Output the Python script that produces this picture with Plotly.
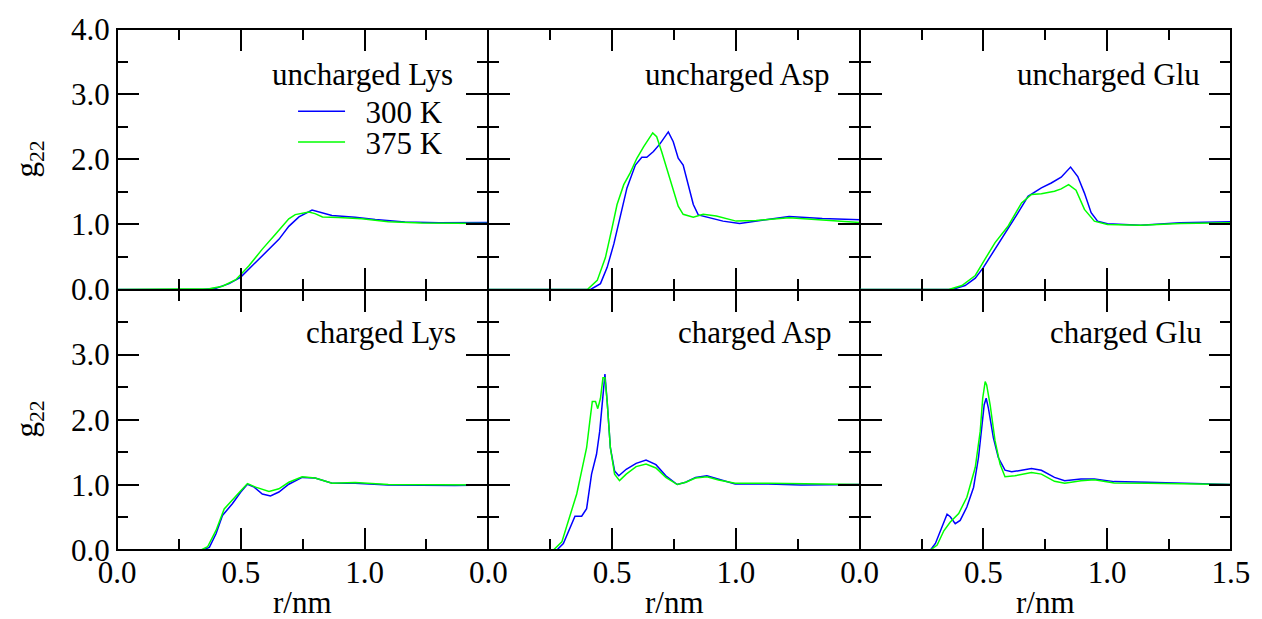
import plotly.graph_objects as go
from plotly.subplots import make_subplots

# ---------------- data (r in nm, g22) ----------------
# uncharged Lys
ulys_300_r = [0.0, 0.346, 0.40, 0.453, 0.50, 0.547, 0.60, 0.654, 0.694, 0.735, 0.788, 0.83, 0.868, 0.962, 1.043, 1.163, 1.30, 1.5]
ulys_300_g = [0.0, 0.0, 0.02, 0.09, 0.19, 0.365, 0.57, 0.77, 0.97, 1.115, 1.22, 1.18, 1.135, 1.11, 1.075, 1.035, 1.025, 1.03]
ulys_375_r = [0.0, 0.33, 0.373, 0.426, 0.48, 0.533, 0.587, 0.64, 0.694, 0.72, 0.748, 0.775, 0.80, 0.83, 0.895, 0.989, 1.096, 1.23, 1.5]
ulys_375_g = [0.0, 0.0, 0.01, 0.05, 0.15, 0.365, 0.62, 0.85, 1.085, 1.15, 1.165, 1.19, 1.165, 1.115, 1.105, 1.085, 1.04, 1.02, 1.015]

# uncharged Asp
uasp_300_r = [0.0, 0.413, 0.453, 0.48, 0.507, 0.533, 0.56, 0.594, 0.62, 0.64, 0.667, 0.694, 0.727, 0.747, 0.767, 0.787, 0.807, 0.828, 0.848, 0.894, 0.948, 1.015, 1.082, 1.215, 1.349, 1.5]
uasp_300_g = [0.0, 0.0, 0.09, 0.34, 0.70, 1.10, 1.56, 1.91, 2.03, 2.03, 2.12, 2.24, 2.42, 2.27, 2.015, 1.91, 1.61, 1.305, 1.145, 1.10, 1.05, 1.015, 1.05, 1.12, 1.09, 1.07]
uasp_375_r = [0.0, 0.40, 0.44, 0.473, 0.50, 0.52, 0.547, 0.573, 0.60, 0.627, 0.664, 0.68, 0.70, 0.72, 0.747, 0.767, 0.787, 0.828, 0.868, 0.921, 1.001, 1.082, 1.215, 1.349, 1.5]
uasp_375_g = [0.0, 0.0, 0.14, 0.49, 0.95, 1.305, 1.61, 1.79, 2.015, 2.19, 2.405, 2.345, 2.12, 1.865, 1.51, 1.28, 1.155, 1.11, 1.155, 1.13, 1.05, 1.06, 1.10, 1.07, 1.03]

# uncharged Glu
uglu_300_r = [0.0, 0.373, 0.426, 0.467, 0.50, 0.547, 0.60, 0.64, 0.68, 0.734, 0.774, 0.814, 0.852, 0.881, 0.908, 0.935, 0.961, 1.001, 1.135, 1.295, 1.5]
uglu_300_g = [0.0, 0.0, 0.06, 0.175, 0.34, 0.62, 0.925, 1.18, 1.43, 1.56, 1.635, 1.725, 1.88, 1.735, 1.48, 1.18, 1.05, 1.01, 0.985, 1.025, 1.04]
uglu_375_r = [0.0, 0.36, 0.413, 0.467, 0.507, 0.547, 0.60, 0.654, 0.694, 0.734, 0.787, 0.814, 0.844, 0.874, 0.908, 0.948, 1.001, 1.135, 1.295, 1.5]
uglu_375_g = [0.0, 0.0, 0.06, 0.215, 0.47, 0.72, 0.975, 1.33, 1.46, 1.47, 1.51, 1.545, 1.61, 1.525, 1.23, 1.05, 1.0, 0.985, 1.015, 1.025]

# charged Lys
clys_300_r = [0.0, 0.346, 0.373, 0.40, 0.426, 0.466, 0.50, 0.527, 0.554, 0.587, 0.62, 0.654, 0.694, 0.748, 0.80, 0.869, 0.962, 1.096, 1.365, 1.5]
clys_300_g = [0.0, 0.0, 0.04, 0.25, 0.53, 0.71, 0.89, 1.01, 0.965, 0.86, 0.83, 0.89, 1.01, 1.115, 1.105, 1.025, 1.025, 1.0, 0.99, 1.0]
clys_375_r = [0.0, 0.34, 0.366, 0.40, 0.433, 0.466, 0.50, 0.527, 0.56, 0.614, 0.654, 0.694, 0.748, 0.80, 0.869, 0.962, 1.096, 1.5]
clys_375_g = [0.0, 0.0, 0.05, 0.30, 0.63, 0.76, 0.91, 1.02, 0.965, 0.90, 0.94, 1.04, 1.125, 1.105, 1.025, 1.035, 1.005, 1.0]

# charged Asp
casp_300_r = [0.0, 0.277, 0.303, 0.33, 0.35, 0.377, 0.397, 0.417, 0.437, 0.45, 0.463, 0.471, 0.48, 0.493, 0.51, 0.527, 0.557, 0.597, 0.637, 0.677, 0.717, 0.763, 0.797, 0.837, 0.883, 0.93, 0.997, 1.13, 1.263, 1.5]
casp_300_g = [0.0, 0.0, 0.10, 0.355, 0.52, 0.52, 0.635, 1.165, 1.47, 1.825, 2.38, 2.70, 2.28, 1.57, 1.215, 1.14, 1.24, 1.33, 1.38, 1.31, 1.14, 1.005, 1.04, 1.115, 1.14, 1.09, 1.015, 1.015, 1.0, 1.005]
casp_375_r = [0.0, 0.263, 0.297, 0.33, 0.357, 0.377, 0.397, 0.41, 0.42, 0.433, 0.442, 0.453, 0.463, 0.471, 0.48, 0.493, 0.51, 0.53, 0.557, 0.597, 0.637, 0.677, 0.717, 0.763, 0.797, 0.837, 0.883, 0.93, 0.997, 1.13, 1.5]
casp_375_g = [0.0, 0.0, 0.125, 0.51, 0.86, 1.215, 1.57, 1.98, 2.28, 2.28, 2.17, 2.33, 2.645, 2.645, 2.28, 1.57, 1.165, 1.065, 1.165, 1.28, 1.32, 1.26, 1.115, 1.005, 1.04, 1.105, 1.125, 1.075, 1.025, 1.025, 1.005]

# charged Glu
cglu_300_r = [0.0, 0.286, 0.306, 0.333, 0.353, 0.366, 0.386, 0.406, 0.433, 0.46, 0.48, 0.493, 0.503, 0.511, 0.52, 0.54, 0.56, 0.587, 0.614, 0.654, 0.694, 0.734, 0.787, 0.828, 0.894, 0.948, 1.028, 1.162, 1.295, 1.5]
cglu_300_g = [0.0, 0.0, 0.10, 0.355, 0.55, 0.51, 0.405, 0.455, 0.66, 0.96, 1.42, 1.875, 2.23, 2.33, 2.18, 1.725, 1.42, 1.225, 1.20, 1.225, 1.25, 1.225, 1.115, 1.065, 1.09, 1.09, 1.05, 1.04, 1.025, 1.005]
cglu_375_r = [0.0, 0.286, 0.313, 0.34, 0.366, 0.40, 0.433, 0.467, 0.487, 0.497, 0.507, 0.513, 0.527, 0.547, 0.567, 0.587, 0.627, 0.694, 0.734, 0.787, 0.828, 0.894, 0.948, 1.028, 1.162, 1.5]
cglu_375_g = [0.0, 0.0, 0.075, 0.295, 0.43, 0.56, 0.81, 1.27, 1.825, 2.33, 2.585, 2.535, 2.23, 1.675, 1.32, 1.125, 1.14, 1.19, 1.165, 1.055, 1.025, 1.065, 1.08, 1.03, 1.025, 1.005]

panel_titles = ["uncharged Lys", "uncharged Asp", "uncharged Glu",
                "charged Lys", "charged Asp", "charged Glu"]
series_names = ["300 K", "375 K"]
x_tickvals = [0.0, 0.5, 1.0, 1.5]
x_ticktext_mid = ["0.0", "0.5", "1.0", ""]
x_ticktext_last = ["0.0", "0.5", "1.0", "1.5"]
y_tickvals = [0, 1, 2, 3, 4]
y_ticktext_top = ["0.0", "1.0", "2.0", "3.0", "4.0"]
y_ticktext_bot = ["0.0", "1.0", "2.0", "3.0", ""]
x_title = "r/nm"
y_title = "g<sub>22</sub>"

panels = [
    (ulys_300_r, ulys_300_g, ulys_375_r, ulys_375_g),
    (uasp_300_r, uasp_300_g, uasp_375_r, uasp_375_g),
    (uglu_300_r, uglu_300_g, uglu_375_r, uglu_375_g),
    (clys_300_r, clys_300_g, clys_375_r, clys_375_g),
    (casp_300_r, casp_300_g, casp_375_r, casp_375_g),
    (cglu_300_r, cglu_300_g, cglu_375_r, cglu_375_g),
]

BLUE = "#0000ff"
GREEN = "#00ff00"
FONT = "Liberation Serif"
FS = 31
PAD = "\u00a0\u00a0"  # small gap between legend line and legend text

fig = make_subplots(rows=2, cols=3, horizontal_spacing=0, vertical_spacing=0)

for i, (r1, g1, r2, g2) in enumerate(panels):
    row = i // 3 + 1
    col = i % 3 + 1
    first = (i == 0)
    fig.add_trace(go.Scatter(x=r1, y=g1, mode="lines", name=PAD + series_names[0],
                             line=dict(color=BLUE, width=1.5), showlegend=first,
                             legend="legend"),
                  row=row, col=col)
    fig.add_trace(go.Scatter(x=r2, y=g2, mode="lines", name=PAD + series_names[1],
                             line=dict(color=GREEN, width=1.5), showlegend=first,
                             legend="legend2"),
                  row=row, col=col)

axis_common = dict(
    showline=True, linecolor="black", linewidth=1, mirror="allticks",
    ticks="inside", ticklen=22, tickwidth=2, tickcolor="black",
    showgrid=False, zeroline=False,
    tickfont=dict(family=FONT, size=FS, color="black"),
)

for i in range(6):
    row = i // 3 + 1
    col = i % 3 + 1
    xt = x_ticktext_last if col == 3 else x_ticktext_mid
    fig.update_xaxes(range=[0, 1.5], tickvals=x_tickvals, ticktext=xt,
                     showticklabels=(row == 2), ticklabelstandoff=-5,
                     minor=dict(dtick=0.25, ticklen=11, tickwidth=2, tickcolor="black", ticks="inside"),
                     **axis_common, row=row, col=col)
    yt = y_ticktext_top if row == 1 else y_ticktext_bot
    fig.update_yaxes(range=[0, 4], tickvals=y_tickvals, ticktext=yt,
                     showticklabels=(col == 1),
                     minor=dict(dtick=0.5, ticklen=11, tickwidth=2, tickcolor="black", ticks="inside"),
                     **axis_common, row=row, col=col)

ML, MR, MT, MB = 117, 25, 25, 69
W, H = 1262, 619
PW = W - ML - MR
PH = H - MT - MB

def px2x(px):
    return (px - ML) / PW

def py2y(py):
    return (H - MB - py) / PH

annots = []
label_pos = [(457, 71), (836, 71), (1208, 71), (460, 331), (838, 331), (1210, 331)]
for t, (px, py) in zip(panel_titles, label_pos):
    annots.append(dict(text=t, x=px2x(px), y=py2y(py), xref="paper", yref="paper",
                       xanchor="right", yanchor="middle", showarrow=False,
                       font=dict(family=FONT, size=FS, color="black")))
for cx in [303.5, 677, 1050.5]:
    annots.append(dict(text=x_title, x=px2x(cx), y=py2y(603), xref="paper", yref="paper",
                       xanchor="center", yanchor="middle", showarrow=False,
                       font=dict(family=FONT, size=FS, color="black")))
for cy in [156, 418]:
    annots.append(dict(text=y_title, x=px2x(29), y=py2y(cy), xref="paper", yref="paper",
                       xanchor="center", yanchor="middle", showarrow=False, textangle=-90,
                       font=dict(family=FONT, size=FS, color="black")))

leg_common = dict(xanchor="left", yanchor="top", bgcolor="rgba(0,0,0,0)", borderwidth=0,
                  font=dict(family=FONT, size=FS, color="black"), itemwidth=47)

fig.update_layout(
    width=W, height=H,
    margin=dict(l=ML, r=MR, t=MT, b=MB),
    paper_bgcolor="white", plot_bgcolor="white",
    showlegend=True,
    legend=dict(x=px2x(294), y=py2y(81), **leg_common),
    legend2=dict(x=px2x(294), y=py2y(112), **leg_common),
    annotations=annots,
    shapes=[dict(type="rect", xref="paper", yref="paper", x0=0, x1=1, y0=0, y1=1,
                 line=dict(color="black", width=2), fillcolor="rgba(0,0,0,0)", layer="above")],
)

fig.write_html("out.html")
